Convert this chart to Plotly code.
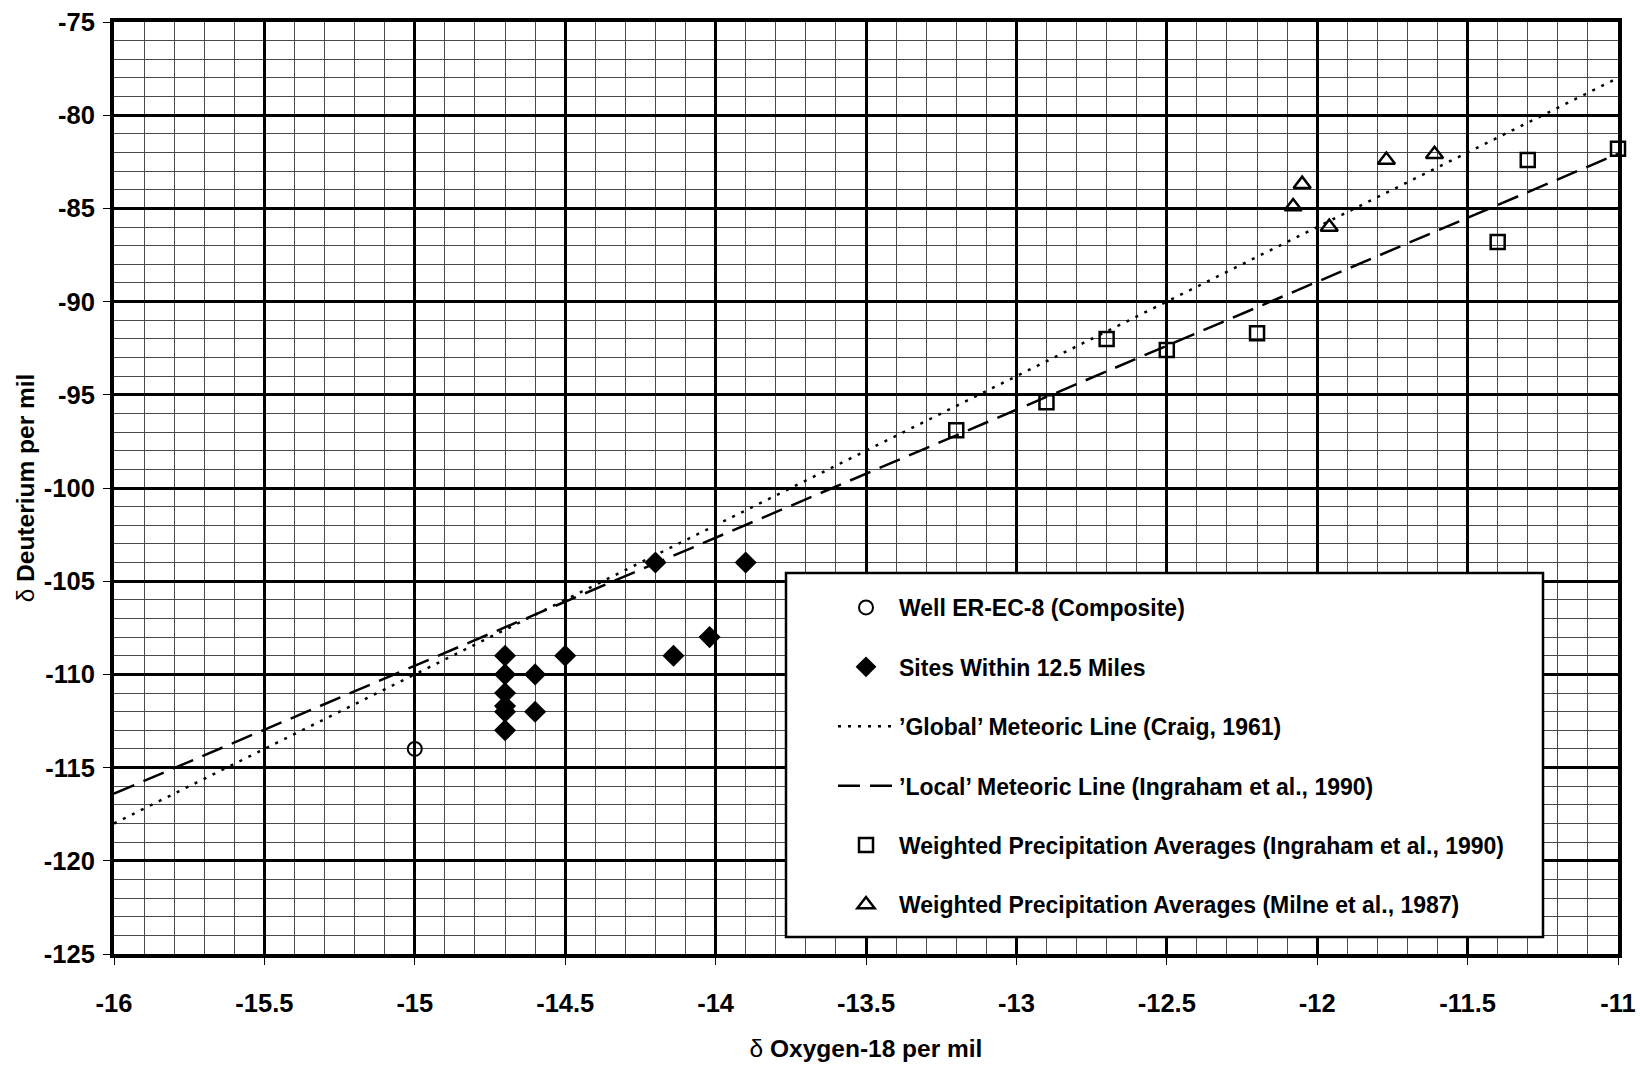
import plotly.graph_objects as go

# ---- data ----
well_x = [-15.0]
well_y = [-114.0]

sites_x = [-14.7, -14.7, -14.7, -14.7, -14.7, -14.7, -14.6, -14.6, -14.5, -14.2, -14.14, -14.02, -13.9]
sites_y = [-109, -110, -111, -111.7, -112, -113, -110, -112, -109, -104, -109, -108, -104]

line_x = [-16.0, -11.0]
global_y = [-118.0, -78.0]
local_y = [-116.4, -82.07]

ingraham_x = [-13.2, -12.9, -12.7, -12.5, -12.2, -11.4, -11.3, -11.0]
ingraham_y = [-96.9, -95.4, -92.0, -92.6, -91.7, -86.8, -82.4, -81.8]

milne_x = [-12.08, -12.05, -11.96, -11.77, -11.61]
milne_y = [-84.9, -83.7, -86.0, -82.4, -82.1]

names = [
    "Well ER-EC-8 (Composite)",
    "Sites Within 12.5 Miles",
    "’Global’ Meteoric Line (Craig, 1961)",
    "’Local’ Meteoric Line (Ingraham et al., 1990)",
    "Weighted Precipitation Averages (Ingraham et al., 1990)",
    "Weighted Precipitation Averages (Milne et al., 1987)",
]

x_ticks = [-16, -15.5, -15, -14.5, -14, -13.5, -13, -12.5, -12, -11.5, -11]
y_ticks = [-125, -120, -115, -110, -105, -100, -95, -90, -85, -80, -75]

FONT = "Liberation Sans, Arial, sans-serif"

fig = go.Figure()

fig.add_trace(go.Scatter(
    x=line_x, y=global_y, mode="lines", name=names[2], legendgroup="g3",
    line=dict(color="black", width=2.5, dash="3px,7px"), legendrank=3))
fig.add_trace(go.Scatter(
    x=line_x, y=local_y, mode="lines", name=names[3], legendgroup="g4",
    line=dict(color="black", width=2.5, dash="22px,10px"), legendrank=4))
fig.add_trace(go.Scatter(
    x=well_x, y=well_y, mode="markers", name=names[0], legendgroup="g1",
    marker=dict(symbol="circle-open", size=14, color="black", line=dict(width=2)),
    cliponaxis=False, legendrank=1))
fig.add_trace(go.Scatter(
    x=sites_x, y=sites_y, mode="markers", name=names[1], legendgroup="g2",
    marker=dict(symbol="diamond", size=17, color="black"),
    cliponaxis=False, legendrank=2))
fig.add_trace(go.Scatter(
    x=ingraham_x, y=ingraham_y, mode="markers", name=names[4], legendgroup="g5",
    marker=dict(symbol="square-open", size=14, color="black", line=dict(width=2.5)),
    cliponaxis=False, legendrank=5))
fig.add_trace(go.Scatter(
    x=milne_x, y=milne_y, mode="markers", name=names[5], legendgroup="g6",
    marker=dict(symbol="triangle-up-open", size=15, color="black", line=dict(width=2.5)),
    cliponaxis=False, legendrank=6))

L, R, T, B = 114, 22, 22, 116
W, H = 1640, 1070
pw, ph = W - L - R, H - T - B

def px_x(p):
    return (p - L) / pw

def px_y(p):
    return 1 - (p - T) / ph

# legend box
fig.add_shape(type="rect", xref="paper", yref="paper",
              x0=px_x(786), x1=px_x(1543), y0=px_y(937), y1=px_y(573),
              line=dict(color="black", width=2.5), fillcolor="white", layer="above")

fig.update_layout(
    width=W, height=H,
    margin=dict(l=L, r=R, t=T, b=B, autoexpand=False),
    paper_bgcolor="white", plot_bgcolor="white",
    font=dict(family=FONT, color="black"),
    showlegend=True,
    legend=dict(
        x=px_x(833), y=px_y(586), xanchor="left", yanchor="top",
        bgcolor="rgba(0,0,0,0)", borderwidth=0,
        font=dict(family=FONT, size=23, weight="bold", color="black"),
        tracegroupgap=26.5, itemwidth=56,
    ),
)

fig.update_xaxes(
    range=[-16, -11], tickvals=x_ticks, ticktext=[f"{v:g}" for v in x_ticks],
    showline=True, linecolor="black", linewidth=4, mirror=True,
    ticks="outside", ticklen=7, tickcolor="black", tickwidth=1,
    ticklabelstandoff=16,
    tickfont=dict(family=FONT, size=25.5, weight="bold"),
    showgrid=True, gridcolor="black", gridwidth=2.5,
    minor=dict(dtick=0.1, showgrid=True, gridcolor="#4a4a4a", gridwidth=1, ticks=""),
    zeroline=False,
    title=dict(text="δ <b>Oxygen-18 per mil</b>", standoff=25,
               font=dict(family=FONT, size=24.5, color="black")),
)
fig.update_yaxes(
    range=[-125, -75], tickvals=y_ticks, ticktext=[f"{v:g}" for v in y_ticks],
    showline=True, linecolor="black", linewidth=4, mirror=True,
    ticks="outside", ticklen=7, tickcolor="black", tickwidth=1,
    ticklabelstandoff=3,
    tickfont=dict(family=FONT, size=25.5, weight="bold"),
    showgrid=True, gridcolor="black", gridwidth=2.5,
    minor=dict(dtick=1, showgrid=True, gridcolor="#4a4a4a", gridwidth=1, ticks=""),
    zeroline=False,
    title=dict(text="δ <b>Deuterium per mil</b>", standoff=3,
               font=dict(family=FONT, size=24.5, color="black")),
)

fig.write_html("out.html")
